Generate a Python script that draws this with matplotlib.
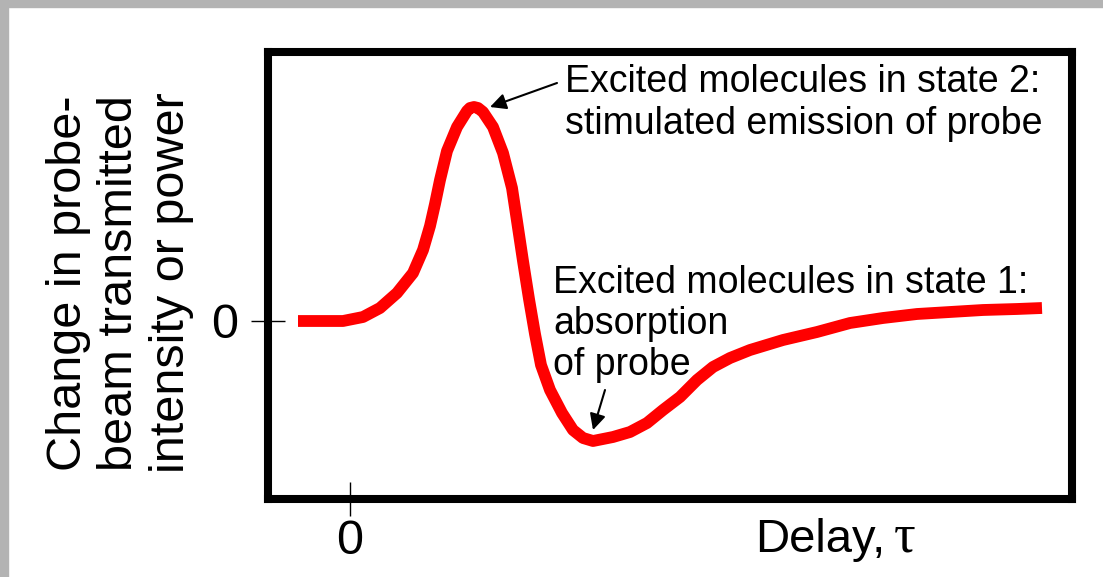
# plot.py
import matplotlib
matplotlib.use("Agg")
import matplotlib.pyplot as plt
from matplotlib.patches import Rectangle

plt.rcParams['font.family'] = ['Liberation Sans', 'DejaVu Sans']

# pump-probe signal (delay in arbitrary units)
delay = [-0.52, -0.07, 0.13, 0.30, 0.47, 0.63, 0.73, 0.80, 0.85, 0.90,
         0.97, 1.07, 1.17, 1.20, 1.24, 1.28, 1.33, 1.43, 1.53, 1.62,
         1.67, 1.73, 1.79, 1.85, 1.91, 2.00, 2.12, 2.23, 2.33, 2.43,
         2.63, 2.80, 2.97, 3.13, 3.30, 3.47, 3.63, 3.80, 4.00, 4.33,
         4.67, 5.00, 5.33, 5.67, 6.00, 6.33, 6.67, 6.92]
signal = [0.00, 0.00, 0.04, 0.13, 0.28, 0.48, 0.71, 0.95, 1.17, 1.41,
          1.70, 1.94, 2.10, 2.13, 2.14, 2.13, 2.09, 1.94, 1.68, 1.33,
          1.00, 0.60, 0.22, -0.13, -0.44, -0.69, -0.92, -1.09, -1.17, -1.20,
          -1.16, -1.11, -1.02, -0.89, -0.76, -0.59, -0.46, -0.37, -0.29, -0.19,
          -0.11, -0.02, 0.03, 0.07, 0.09, 0.11, 0.12, 0.13]

x_ticks = [0]
y_ticks = [0]
tick_labels = ["0"]

label_state2 = "Excited molecules in state 2:\nstimulated emission of probe"
label_state1 = "Excited molecules in state 1:\nabsorption\nof probe"
y_label = "Change in probe-\nbeam transmitted\nintensity or power"

W, H = 1103, 577
fig = plt.figure(figsize=(W / 100, H / 100), dpi=100)

# grey frame on top and left edge
fig.patches.append(Rectangle((0, 1 - 7 / H), 1, 7 / H, transform=fig.transFigure,
                             color="#b3b3b3", zorder=-1))
fig.patches.append(Rectangle((0, 0), 8 / W, 1, transform=fig.transFigure,
                             color="#b3b3b3", zorder=-1))

ax = fig.add_axes([268 / W, 1 - 499 / H, (1072 - 268) / W, (499 - 52) / H])
ax.plot(delay, signal, color="#ff0000", linewidth=8.5,
        solid_capstyle="butt", solid_joinstyle="round")

ax.set_xlim(-0.82, 7.22)
ax.set_ylim(-1.78, 2.69)
for sp in ax.spines.values():
    sp.set_linewidth(5.8)
    sp.set_color("black")

ax.set_xticks(x_ticks)
ax.set_xticklabels(tick_labels)
ax.set_yticks(y_ticks)
ax.set_yticklabels(tick_labels)
ax.tick_params(direction="inout", length=25, width=1.0, labelsize=35, pad=9)
ax.tick_params(axis="x", pad=2)

ax.text(2.15, 2.57, label_state2, fontsize=27, ha="left", va="top", linespacing=1.2)
ax.text(2.03, 0.56, label_state1, fontsize=27, ha="left", va="top", linespacing=1.18)

ax.annotate("", xy=(1.40, 2.14), xytext=(2.07, 2.38),
            arrowprops=dict(arrowstyle="-|>", color="black", lw=1.5,
                            mutation_scale=24, shrinkA=0, shrinkB=0))
ax.annotate("", xy=(2.43, -1.09), xytext=(2.55, -0.69),
            arrowprops=dict(arrowstyle="-|>", color="black", lw=1.5,
                            mutation_scale=24, shrinkA=0, shrinkB=0))

fig.text(120 / W, 1 - 283 / H, y_label, rotation=90, fontsize=35,
         ha="center", va="center", multialignment="center", linespacing=1.18)

fig.text(755 / W, 1 - 552 / H, "Delay,", fontsize=34, ha="left", va="baseline")
fig.text(894 / W, 1 - 552 / H, "τ", fontsize=39, ha="left", va="baseline",
         family="Liberation Serif")

fig.savefig("out.png", dpi=100)
